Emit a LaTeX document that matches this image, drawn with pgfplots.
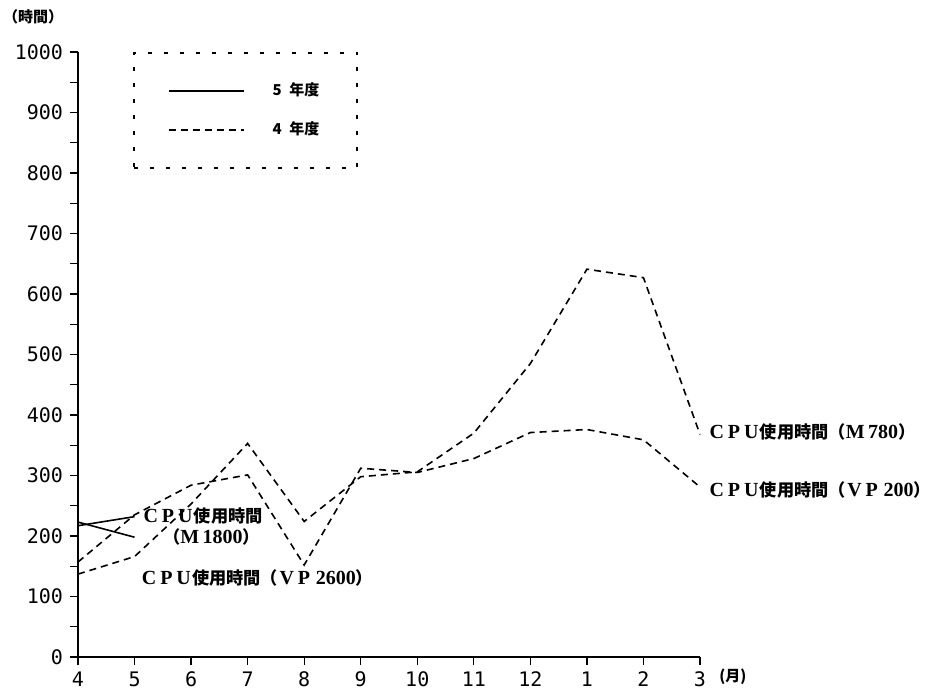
\documentclass[border=0pt]{standalone}
\usepackage{fontspec}
\setmainfont{Liberation Serif}
\newfontfamily\cjk{Noto Sans CJK JP}
\newfontfamily\monof{DejaVu Sans Mono}
\usepackage{pgfplots}
\pgfplotsset{compat=1.18}
% fullwidth latin letters as in the print
\newcommand{\lat}[1]{{\fontsize{10}{12}\selectfont #1}}
\newcommand{\fw}[1]{\makebox[1em][c]{\lat{#1}}}
\newcommand{\cpu}{\fw{C}\fw{P}\fw{U}{\cjk 使用時間}}
\begin{document}
\begin{tikzpicture}
\path[use as bounding box] (-39pt,-18pt) rectangle (425pt,328.5pt);
\begin{axis}[
  at={(0,0)}, anchor=south west,
  scale only axis, width=311pt, height=302.5pt,
  xmin=0, xmax=11, ymin=0, ymax=1000,
  axis lines=left,
  axis line style={-, line width=0.7pt},
  xtick={0,...,11},
  xticklabels={4,5,6,7,8,9,10,11,12,1,2,3},
  ytick={0,100,...,1000},
  minor ytick={50,150,...,950},
  tick align=outside,
  major tick length=4pt, minor tick length=4pt,
  tick style={black, line width=0.6pt},
  ticklabel style={font=\monof\fontsize{10}{12}\selectfont},
  /pgf/number format/assume math mode=true,
  /pgf/number format/1000 sep={},
  xlabel={(月)},
  xlabel style={at={(axis description cs:1.053,-0.033)}, anchor=center,
    font=\cjk\bfseries\fontsize{7.5}{9}\selectfont},
  ylabel={（時間）},
  ylabel style={at={(axis description cs:-0.072,1.058)}, rotate=-90, anchor=center,
    font=\cjk\bfseries\fontsize{7.5}{9}\selectfont},
  clip=false,
  legend image code/.code={
    \draw[#1] (0pt,0pt) -- (37.5pt,0pt);
    \path[draw=none] (0pt,0pt) -- (50pt,0pt);
  },
  legend style={at={(0.0884,1)}, anchor=north west,
    draw=black, line width=0.9pt, dash pattern=on 2pt off 6pt,
    inner xsep=17pt, inner ysep=13pt, row sep=7.5pt,
    font=\cjk\bfseries\fontsize{7.5}{9}\selectfont},
  legend cell align=left,
]
% 5年度 (solid)
\addplot[black, solid, line width=0.8pt] coordinates {(0,217) (1,232)};
\addplot[black, solid, line width=0.8pt, forget plot] coordinates {(0,223) (1,198)};
% 4年度 (dashed)
\addplot[black, line width=0.8pt, dash pattern=on 3.5pt off 2.5pt] coordinates {
(0,157) (1,235) (2,284) (3,301) (4,152) (5,312) (6,305) (7,328) (8,371) (9,376) (10,359) (11,281)};
\addplot[black, line width=0.8pt, dash pattern=on 3.5pt off 2.5pt, forget plot] coordinates {
(0,137) (1,166) (2,253) (3,353) (4,224) (5,298) (6,306) (7,370) (8,485) (9,641) (10,627) (11,368)};
\legend{5\enspace 年度, 4\enspace 年度}
% labels
\begin{scope}[every node/.style={anchor=west, inner sep=0pt, font=\bfseries\fontsize{8.6}{10}\selectfont}]
\node at (axis cs:1.13,233) {\cpu};
\node at (axis cs:1.50,198) {{\cjk （}\lat{M\,1800}{\cjk ）}};
\node at (axis cs:1.10,131) {\cpu{\cjk （}\fw{V}\fw{P}\lat{\,2600}{\cjk ）}};
\node at (axis cs:11.14,372) {\cpu{\cjk （}\lat{M\,780}{\cjk ）}};
\node at (axis cs:11.14,276) {\cpu{\cjk （}\fw{V}\fw{P}\lat{\,200}{\cjk ）}};
\end{scope}
\end{axis}
\end{tikzpicture}
\end{document}
